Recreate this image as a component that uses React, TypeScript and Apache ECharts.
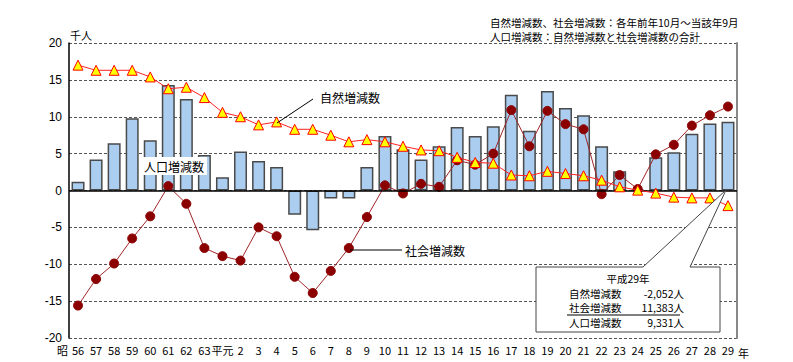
import React, { useEffect, useRef } from "react";
import * as echarts from "echarts";

const categories = [
  "56", "57", "58", "59", "60", "61", "62", "63", "平元",
  "2", "3", "4", "5", "6", "7", "8", "9", "10", "11", "12", "13", "14", "15",
  "16", "17", "18", "19", "20", "21", "22", "23", "24", "25", "26", "27", "28", "29",
];

// 人口増減数 (千人)
const populationChange = [
  1.2, 4.2, 6.4, 9.8, 6.8, 14.3, 12.4, 4.8, 1.8,
  5.3, 4.0, 3.2, -3.3, -5.4, -1.1, -1.1, 3.2, 7.4, 5.6, 4.2, 6.0, 8.6, 7.4,
  8.7, 13.0, 8.1, 13.5, 11.2, 10.2, 6.0, 2.6, 0.2, 4.5, 5.2, 7.7, 9.1, 9.331,
];

// 自然増減数 (千人)
const naturalChange = [
  17.0, 16.3, 16.3, 16.3, 15.4, 13.8, 14.0, 12.6, 10.6,
  10.0, 8.9, 9.3, 8.3, 8.3, 7.5, 6.6, 6.9, 6.6, 6.0, 5.5, 5.4, 4.5, 3.8,
  3.7, 2.1, 2.0, 2.6, 2.3, 2.0, 1.4, 0.5, 0.05, -0.35, -0.9, -1.0, -1.0, -2.052,
];

// 社会増減数 (千人)
const socialChange = [
  -15.6, -12.0, -9.9, -6.5, -3.5, 0.6, -1.8, -7.8, -8.9,
  -9.5, -5.0, -6.2, -11.7, -13.9, -10.9, -7.8, -3.6, 0.7, -0.4, 0.9, 0.5, 4.1, 3.5,
  5.0, 10.9, 6.0, 10.8, 9.0, 8.3, -0.5, 2.1, 0.2, 4.9, 6.2, 8.8, 10.2, 11.383,
];

const yTicks = [-20, -15, -10, -5, 0, 5, 10, 15, 20];

const calloutLabels = ["自然増減数", "社会増減数", "人口増減数"];
const calloutValues = ["-2,052人", "11,383人", "9,331人"];

const FONT = "'Noto Sans CJK JP', 'Noto Sans', sans-serif";

export default function App() {
  const ref = useRef<HTMLDivElement>(null);

  useEffect(() => {
    if (!ref.current) return;
    const chart = echarts.init(ref.current, null, { renderer: "svg" });
    const yMin = yTicks[0];
    const yMax = yTicks[yTicks.length - 1];
    const txt = (
      x: number,
      y: number,
      text: string,
      fontSize: number,
      align = "left",
      z = 11,
      verticalAlign = "middle"
    ) => ({
      type: "text",
      x,
      y,
      z,
      style: { text, fontSize, fontFamily: FONT, fill: "#000", align, verticalAlign },
    });
    chart.setOption({
      animation: false,
      backgroundColor: "#ffffff",
      textStyle: { fontFamily: FONT },
      grid: { left: 69, right: 56, top: 43, bottom: 24, containLabel: false },
      xAxis: {
        type: "category",
        data: categories,
        boundaryGap: true,
        axisLine: { show: false, onZero: false },
        axisTick: { show: false },
        axisLabel: {
          interval: 0,
          margin: 6,
          fontSize: 11,
          color: "#000",
          fontFamily: FONT,
        },
      },
      yAxis: [
        {
          type: "value",
          min: yMin,
          max: yMax,
          interval: 5,
          axisLine: { show: true, lineStyle: { color: "#000", width: 1.5 } },
          axisTick: { show: false },
          axisLabel: {
            margin: 7,
            fontSize: 12,
            color: "#000",
            fontFamily: "'Liberation Sans', Arial, sans-serif",
          },
          splitLine: {
            show: true,
            lineStyle: { color: "#555", type: [3, 2], width: 1.2 },
          },
        },
        {
          type: "value",
          min: yMin,
          max: yMax,
          interval: 5,
          position: "right",
          axisLine: { show: true, lineStyle: { color: "#888", width: 2 } },
          axisTick: { show: false },
          axisLabel: { show: false },
          splitLine: { show: false },
        },
      ],
      series: [
        {
          name: "人口増減数",
          type: "bar",
          data: populationChange,
          barWidth: 13,
          itemStyle: {
            color: "#aacdf0",
            borderColor: "#4a4a4a",
            borderWidth: 1.5,
          },
          z: 2,
          markLine: {
            silent: true,
            symbol: "none",
            label: { show: false },
            lineStyle: { color: "#000", type: "solid", width: 1.5 },
            data: [{ yAxis: 0 }],
          },
        },
        {
          name: "社会増減数",
          type: "line",
          data: socialChange,
          symbol: "circle",
          symbolSize: 9,
          itemStyle: { color: "#8b0000", borderColor: "#8b0000" },
          lineStyle: { color: "#a0262a", width: 1 },
          z: 4,
        },
        {
          name: "自然増減数",
          type: "line",
          data: naturalChange,
          symbol: "triangle",
          symbolSize: 10,
          itemStyle: { color: "#ffff00", borderColor: "#ff0000", borderWidth: 1 },
          lineStyle: { color: "#ff2020", width: 1 },
          z: 5,
        },
      ],
      graphic: [
        txt(490, 22, "自然増減数、社会増減数：各年前年10月～当該年9月", 10.5),
        txt(490, 36.5, "人口増減数：自然増減数と社会増減数の合計", 10.5),
        txt(70, 35, "千人", 11),
        txt(68, 350, "昭", 11, "right"),
        txt(738, 353, "年", 11),
        // 人口増減数 label
        {
          type: "rect",
          shape: { x: 141, y: 157, width: 66, height: 18 },
          style: { fill: "#fff" },
          z: 10,
        },
        txt(174, 166, "人口増減数", 12, "center"),
        // 自然増減数 label
        {
          type: "line",
          shape: { x1: 313, y1: 99, x2: 277, y2: 123 },
          style: { stroke: "#000", lineWidth: 1 },
          z: 10,
        },
        txt(320, 97, "自然増減数", 12),
        // 社会増減数 label
        {
          type: "line",
          shape: { x1: 350, y1: 250, x2: 402, y2: 250 },
          style: { stroke: "#000", lineWidth: 1 },
          z: 10,
        },
        txt(405, 250, "社会増減数", 12),
        // callout box
        {
          type: "polygon",
          z: 12,
          shape: {
            points: [
              [536, 267],
              [643, 267],
              [726, 190],
              [690, 267],
              [720, 267],
              [720, 332],
              [536, 332],
            ],
          },
          style: { fill: "#fff", stroke: "#444", lineWidth: 1 },
        },
        txt(628, 278.5, "平成29年", 10.5, "center", 13),
        txt(569, 293, calloutLabels[0], 10.5, "left", 13),
        txt(684, 293, calloutValues[0], 10.5, "right", 13),
        txt(569, 307.5, calloutLabels[1], 10.5, "left", 13),
        txt(684, 307.5, calloutValues[1], 10.5, "right", 13),
        txt(569, 322, calloutLabels[2], 10.5, "left", 13),
        txt(684, 322, calloutValues[2], 10.5, "right", 13),
        {
          type: "line",
          z: 13,
          shape: { x1: 567, y1: 315, x2: 680, y2: 315 },
          style: { stroke: "#000", lineWidth: 1 },
        },
      ],
    });
    return () => chart.dispose();
  }, []);

  return (
    <div style={{ position: "fixed", left: 0, top: 0 }}>
      <div ref={ref} style={{ width: 793, height: 362 }} />
    </div>
  );
}
